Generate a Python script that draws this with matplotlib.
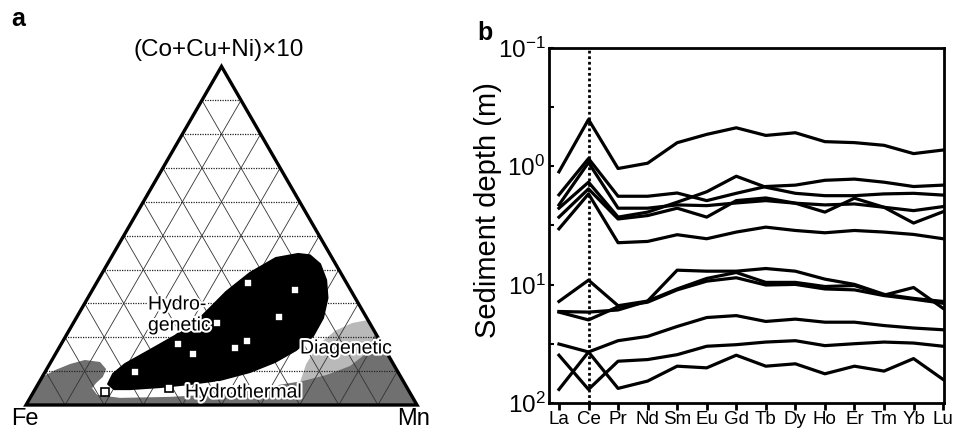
import matplotlib

matplotlib.use("Agg")
import matplotlib.pyplot as plt
import matplotlib.patheffects as pe
import numpy as np
from matplotlib.patches import Polygon

plt.rcParams["font.family"] = ["Liberation Sans", "DejaVu Sans"]
plt.rcParams["mathtext.fontset"] = "custom"
plt.rcParams["mathtext.rm"] = "Liberation Sans"

W, H = 954, 432

# ---- panel a: compositions in percent (Fe = 100 - Mn - top) ----
sample_mn = [38.9, 51.8, 51.8, 36.9, 47.0, 45.0, 30.0, 35.2, 23.0, 18.3, 34.2]
sample_top = [35.9, 34.0, 25.9, 24.1, 19.0, 16.9, 17.9, 15.0, 9.8, 3.8, 4.9]

hydrogenetic_mn = [17.9, 17.7, 19.3, 23.6, 27.9, 31.7, 33.1, 34.5, 37.8, 42.2, 47.3, 50.5,
                   54.4, 58.3, 61.3, 63.1, 63.2, 60.9, 57.3, 52.4, 45.9, 38.8, 31.6, 24.2, 20.2]
hydrogenetic_top = [6.2, 9.16, 12.1, 16.2, 20.4, 25.7, 29.5, 33.4, 39.0, 43.4, 44.6, 44.2,
                    41.6, 36.9, 31.6, 25.7, 20.4, 16.2, 12.7, 9.75, 7.4, 6.2, 5.3, 4.7, 4.7]

diagenetic_mn = [66.7, 65.6, 65.8, 68.1, 71.3, 74.9, 81.1, 81.9, 78.0, 72.4]
diagenetic_top = [6.8, 12.1, 17.7, 21.9, 24.2, 25.1, 18.9, 14.8, 9.7, 5.6]

hydrothermal_mn = [0.0, 0.0, 2.3, 5.2, 8.4, 12.6, 15.2, 15.5, 14.7, 14.4, 16.7, 23.0, 35.6,
                   48.0, 57.3, 67.3, 72.5, 77.1, 79.5, 78.7, 100.0]
hydrothermal_top = [0.0, 8.3, 10.3, 12.1, 13.3, 12.7, 10.6, 8.3, 6.5, 5.0, 3.0, 2.1, 2.4,
                    3.2, 5.0, 7.1, 8.9, 11.5, 15.4, 21.3, 0.0]

# ---- panel b ----
ree = ["La", "Ce", "Pr", "Nd", "Sm", "Eu", "Gd", "Tb", "Dy", "Ho", "Er", "Tm", "Yb", "Lu"]
patterns = [
    [1.12, 0.405, 1.05, 0.947, 0.636, 0.541, 0.476, 0.552, 0.524, 0.623, 0.635, 0.669, 0.786, 0.733],
    [1.75, 0.865, 1.80, 1.80, 1.69, 1.96, 1.70, 1.49, 1.45, 1.32, 1.29, 1.37, 1.49, 1.45],
    [2.27, 1.37, 2.70, 2.45, 2.02, 1.65, 1.22, 1.51, 1.70, 1.78, 1.78, 1.72, 1.70, 1.76],
    [2.70, 1.56, 2.80, 2.62, 2.27, 2.70, 1.96, 1.86, 2.06, 2.45, 1.87, 2.23, 3.03, 2.43],
    [2.13, 0.935, 2.27, 2.27, 2.13, 2.16, 2.05, 1.96, 2.06, 2.13, 2.09, 2.23, 2.38, 2.20],
    [3.39, 1.72, 4.44, 4.33, 3.80, 4.11, 3.61, 3.28, 3.50, 3.66, 3.50, 3.61, 3.78, 4.11],
    [13.9, 9.19, 15.1, 13.8, 10.9, 8.89, 7.92, 9.60, 9.60, 10.4, 10.2, 12.3, 10.6, 15.9],
    [16.9, 17.1, 16.4, 13.8, 7.57, 7.72, 7.72, 7.33, 7.72, 9.01, 9.98, 12.1, 13.1, 13.9],
    [17.1, 19.9, 15.4, 14.1, 11.1, 9.37, 8.77, 10.1, 9.98, 10.9, 11.1, 12.4, 13.3, 14.4],
    [31.8, 37.1, 29.8, 27.4, 22.6, 19.0, 18.3, 20.5, 19.6, 20.8, 20.8, 22.2, 23.3, 24.1],
    [39.5, 76.8, 44.4, 43.0, 39.1, 33.2, 32.2, 30.6, 29.8, 32.8, 31.6, 30.6, 31.2, 33.2],
    [76.8, 37.1, 75.3, 65.3, 48.9, 50.5, 39.5, 48.9, 46.7, 56.7, 48.9, 53.8, 42.2, 63.3],
]


def tern_xy(mn, top):
    mn = np.asarray(mn, dtype=float) / 100
    top = np.asarray(top, dtype=float) / 100
    return mn + top / 2, top * np.sqrt(3) / 2


def px(x, y):
    return x / W, 1 - y / H


fig = plt.figure(figsize=(W / 100, H / 100), dpi=100)

# ---------------- panel a ----------------
ax = fig.add_axes([26 / W, 1 - 405 / H, 391 / W, 338.6 / H])
ax.set_xlim(0, 1)
ax.set_ylim(0, np.sqrt(3) / 2)
ax.axis("off")

tri = np.array([[0, 0], [1, 0], [0.5, np.sqrt(3) / 2]])
clip = Polygon(tri, closed=True, transform=ax.transData, facecolor="none", edgecolor="none")
ax.add_patch(clip)

x, y = tern_xy(diagenetic_mn, diagenetic_top)
p = Polygon(np.column_stack([x, y]), closed=True, facecolor="#b9b9b9", edgecolor="none", zorder=1)
ax.add_patch(p)
p.set_clip_path(clip)

x, y = tern_xy(hydrothermal_mn, hydrothermal_top)
p = Polygon(np.column_stack([x, y]), closed=True, facecolor="#707070", edgecolor="none", zorder=1.2)
ax.add_patch(p)
p.set_clip_path(clip)

for i in range(1, 10):
    f = i * 10
    gx, gy = tern_xy([0, 100 - f], [f, f])
    ax.plot(gx, gy, color="#222222", lw=0.9, ls=(0, (1, 1)), zorder=2)
    gx, gy = tern_xy([f, f], [0, 100 - f])
    ax.plot(gx, gy, color="#333333", lw=0.6, zorder=2)
    gx, gy = tern_xy([100 - f, 0], [0, 100 - f])
    ax.plot(gx, gy, color="#333333", lw=0.6, zorder=2)

x, y = tern_xy(hydrogenetic_mn, hydrogenetic_top)
ax.add_patch(Polygon(np.column_stack([x, y]), closed=True, facecolor="black",
                     edgecolor="black", lw=1.5, joinstyle="round", zorder=3))

ax.add_patch(Polygon(tri, closed=True, facecolor="none", edgecolor="black", lw=2.4,
                     joinstyle="miter", zorder=4, clip_on=False))

x, y = tern_xy(sample_mn, sample_top)
ax.plot(x, y, ls="none", marker="s", ms=5.5, mfc="white", mec="black", mew=1.2, zorder=5)

halo = [pe.withStroke(linewidth=3, foreground="white")]
for label, (lx, ly) in {"Hydro-": (148, 305), "genetic": (148, 326),
                        "Diagenetic": (300, 349), "Hydrothermal": (185, 393)}.items():
    fig.text(*px(lx, ly), label, fontsize=14, ha="left", va="center",
             path_effects=halo, zorder=6)

fig.text(*px(219, 50), "(Co+Cu+Ni)×10", fontsize=17.5, ha="center", va="center")
fig.text(*px(25, 419), "Fe", fontsize=17, ha="center", va="center")
fig.text(*px(414, 419), "Mn", fontsize=17, ha="center", va="center")
fig.text(*px(18, 19), "a", fontsize=18, fontweight="bold", ha="center", va="center")

# ---------------- panel b ----------------
ax2 = fig.add_axes([549.5 / W, 1 - 403 / H, 394.8 / W, 355.5 / H])
xs = np.arange(len(ree))
ax2.axvline(1, color="black", ls=(0, (1, 1)), lw=2, zorder=1)
for vals in patterns:
    ax2.plot(xs, vals, color="black", lw=2.3, zorder=2)

ax2.set_yscale("log")
ax2.set_ylim(100, 0.1)
ax2.set_xlim(-0.32, 13.04)
ax2.set_xticks(xs, ree)
ax2.set_yticks([0.1, 1, 10, 100],
               [r"$\mathregular{10^{-1}}$", r"$\mathregular{10^{0}}$",
                r"$\mathregular{10^{1}}$", r"$\mathregular{10^{2}}$"])
ax2.set_yticks([10 ** -0.5, 10 ** 0.5, 10 ** 1.5], minor=True)
ax2.yaxis.set_minor_formatter(matplotlib.ticker.NullFormatter())
ax2.tick_params(axis="x", direction="out", length=5, width=2, labelsize=13.5, pad=0.5)
ax2.tick_params(axis="y", which="both", direction="in", length=3.5, width=1.5,
                labelsize=17.5, pad=3)
for s in ax2.spines.values():
    s.set_linewidth(2)

fig.text(*px(488, 210), "Sediment depth (m)", fontsize=21, rotation=90,
         ha="center", va="center")
fig.text(*px(485, 33), "b", fontsize=18, fontweight="bold", ha="center", va="center")

fig.savefig("out.png", dpi=100)
